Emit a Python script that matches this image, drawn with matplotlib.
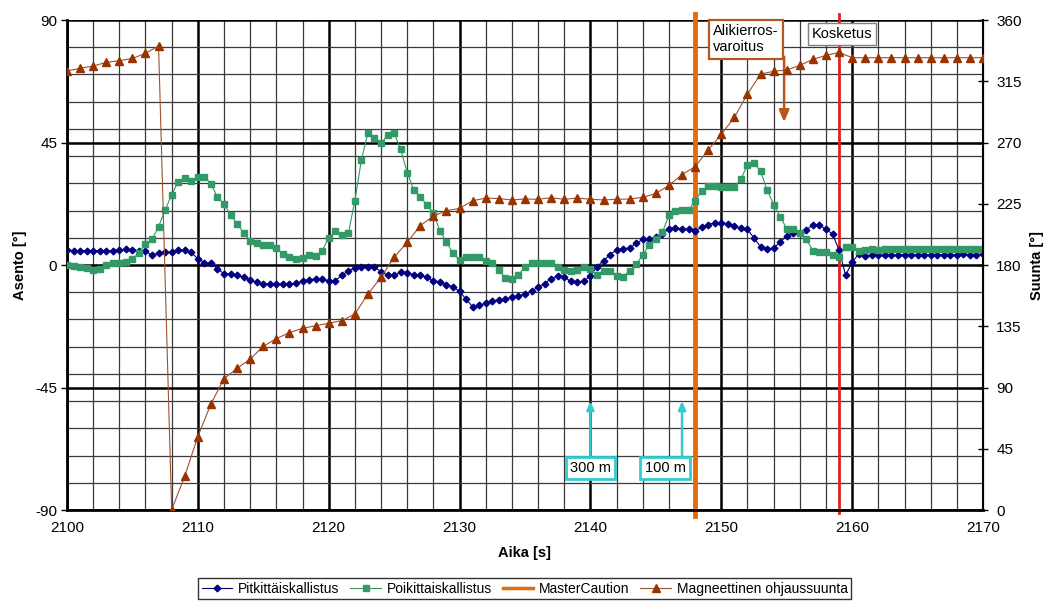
import numpy as np
import matplotlib
matplotlib.use("Agg")
import matplotlib.pyplot as plt
from matplotlib.ticker import MultipleLocator
from matplotlib.lines import Line2D

plt.rcParams["font.family"] = ["Liberation Sans", "DejaVu Sans"]
plt.rcParams["font.size"] = 10
plt.rcParams["axes.unicode_minus"] = False

# ── Data ──────────────────────────────────────────────
time_half = np.arange(2100, 2170.01, 0.5)   # 0.5 s sampling
time_full = np.arange(2100, 2171, 1)        # 1 s sampling

pitch = [  # Pitkittäiskallistus [°]
    5.5, 5.3, 5.3, 5.3, 5.3, 5.3, 5.1, 5.3, 5.5, 5.7, 5.5, 5.3, 5.0, 3.6, 4.5, 4.6, 4.8, 5.5, 5.5, 4.6,
    2.3, 0.9, 0.6, -1.3, -3.3, -3.3, -3.8, -4.5, -5.5, -6.4, -7.0, -7.0, -7.0, -7.0, -7.0, -6.7, -6.0, -5.5, -5.0, -5.3,
    -5.8, -5.8, -3.8, -2.1, -1.1, -0.6, -0.6, -0.9, -2.4, -3.8, -3.8, -2.6, -2.8, -3.6, -3.8, -4.5, -5.8, -6.2, -7.2, -8.0,
    -9.7, -12.6, -15.3, -14.8, -14.1, -13.1, -12.9, -12.4, -11.9, -11.4, -10.7, -9.7, -8.0, -6.8, -5.0, -4.0, -4.5, -6.0, -6.2, -6.0,
    -4.0, -0.6, 1.6, 3.8, 5.5, 6.0, 6.2, 8.0, 9.4, 9.4, 10.4, 11.4, 13.3, 13.6, 13.3, 13.1, 12.6, 13.8, 14.8, 15.6,
    15.6, 15.1, 14.3, 13.6, 13.1, 9.9, 6.7, 6.0, 6.2, 8.4, 10.7, 11.9, 11.6, 12.9, 14.8, 14.6, 13.1, 11.4, 5.5, -3.8,
    1.1, 4.0, 3.3, 3.6, 3.5, 3.6, 3.5, 3.6, 3.8, 3.6, 3.6, 3.8, 3.6, 3.8, 3.8, 3.6, 3.8, 4.0, 3.8, 3.6, 4.0,
]

roll = [  # Poikittaiskallistus [°]
    0.0, -0.2, -0.6, -1.2, -1.8, -1.6, 0.1, 0.6, 0.6, 1.1, 2.1, 4.5, 7.7, 9.4, 14.1, 20.2, 25.8, 30.6, 31.8, 30.9,
    32.2, 32.4, 29.8, 24.9, 22.4, 18.4, 15.1, 11.9, 8.7, 8.2, 7.3, 7.2, 6.1, 4.0, 2.8, 2.1, 2.7, 3.6, 3.3, 5.3,
    9.9, 12.4, 10.9, 11.6, 23.6, 38.6, 48.6, 46.8, 44.7, 47.6, 48.4, 42.5, 33.9, 27.6, 24.9, 22.2, 19.0, 12.6, 8.4, 4.3,
    1.8, 3.1, 3.1, 3.1, 1.6, 0.9, -1.8, -4.8, -5.0, -3.6, -0.6, 0.6, 0.6, 0.6, 0.6, -0.6, -1.8, -2.3, -1.8, -0.6,
    -1.6, -3.8, -2.1, -2.3, -4.0, -4.3, -2.1, 0.4, 3.6, 7.5, 9.7, 12.1, 18.2, 20.0, 20.2, 20.2, 23.6, 27.3, 29.0, 29.0,
    28.5, 28.8, 28.8, 31.5, 36.9, 37.6, 34.4, 27.6, 22.2, 17.8, 13.3, 13.3, 11.9, 9.4, 5.3, 4.8, 4.8, 3.6, 3.1, 6.7,
    6.5, 5.3, 5.5, 5.8, 5.5, 5.8, 6.0, 5.8, 5.8, 6.0, 5.8, 5.8, 6.0, 5.8, 5.8, 6.0, 5.8, 5.8, 6.0, 5.8, 5.8,
]

heading = [  # Magneettinen ohjaussuunta [°]
    322.5, 324.5, 326.2, 328.9, 330.1, 331.8, 335.5, 340.9,
    0.0, 25.0, 53.9, 77.9, 96.5, 104.1, 110.9, 120.2, 125.9, 130.3, 133.5, 135.4, 137.2, 139.1, 144.0,
    158.7, 171.0, 185.7, 196.7, 208.9, 216.0, 219.9, 221.6, 227.2, 229.2, 228.8, 227.8, 228.5, 228.3,
    229.4, 228.3, 229.2, 228.3, 227.8, 228.3, 228.5, 229.7, 232.6, 238.5, 246.4, 252.3,
    264.5, 276.0, 288.5, 305.6, 320.3, 322.3, 323.3, 326.7, 331.1, 334.0, 336.2, 332.3,
    332.3, 332.3, 332.3, 332.3, 332.3, 332.3, 332.3, 332.3, 332.3, 332.3,
]

master_caution_t = 2148.0
touchdown_t = 2159.0
alt_marks = {"300 m": 2140.0, "100 m": 2147.0}
warning_t = 2154.8

NAVY = "#000080"
GREEN = "#339966"
ORANGE = "#E36C09"
BROWN = "#993300"
RED = "#E02020"
CYAN = "#33CCCC"

# ── Figure ────────────────────────────────────────────
fig = plt.figure(figsize=(10.43, 6.01), dpi=100)
ax = fig.add_axes([0.0642, 0.1514, 0.8783, 0.8153])
ax2 = ax.twinx()

ax.set_xlim(2100, 2170)
ax.set_ylim(-90, 90)
ax2.set_ylim(0, 360)

ax.xaxis.set_major_locator(MultipleLocator(10))
ax.xaxis.set_minor_locator(MultipleLocator(2))
ax.yaxis.set_major_locator(MultipleLocator(45))
ax.yaxis.set_minor_locator(MultipleLocator(10))
ax2.yaxis.set_major_locator(MultipleLocator(45))

ax.grid(which="major", color="black", linewidth=1.8, zorder=0)
ax.grid(which="minor", color="#3a3a3a", linewidth=0.9, zorder=0)
ax.set_axisbelow(True)

ax.tick_params(axis="x", which="both", length=0, pad=8, labelsize=11)
ax.tick_params(axis="y", which="major", direction="out", length=4, width=1, pad=3, labelsize=11)
ax.tick_params(axis="y", which="minor", length=0)
ax2.tick_params(axis="y", direction="inout", length=7, width=1, pad=6, labelsize=11)

for side in ["left", "bottom"]:
    ax.spines[side].set_linewidth(2)
ax2.spines["right"].set_linewidth(1.5)
ax2.spines["left"].set_visible(False)
ax2.spines["bottom"].set_visible(False)
ax.spines["top"].set_visible(False)
ax2.spines["top"].set_visible(False)

# event lines
ax.axvline(master_caution_t, ymin=-0.012, ymax=1.012, color=ORANGE,
           linewidth=3.5, zorder=1, clip_on=False)
ax.axvline(touchdown_t, ymin=-0.006, ymax=1.012, color=RED,
           linewidth=2, zorder=1, clip_on=False)

# series
ax.plot(time_half, pitch, color=NAVY, linewidth=0.8, marker="D",
        markersize=3.4, zorder=3)
ax.plot(time_half, roll, color=GREEN, linewidth=0.8, marker="s",
        markersize=4.2, zorder=3)
ax2.plot(time_full, heading, color="#A0522D", linewidth=0.8, marker="^",
         markersize=5.2, markerfacecolor=BROWN, markeredgecolor=BROWN, zorder=3)

# annotations
ax.text(2151.9, 83.0, "Alikierros-\nvaroitus", ha="center", va="center",
        multialignment="left", fontsize=10.5, zorder=6,
        bbox=dict(boxstyle="square,pad=0.3", fc="white", ec="#B8561C", lw=1.6))
ax.annotate("", xy=(warning_t, 52.5), xytext=(warning_t, 76.5), zorder=6,
            arrowprops=dict(arrowstyle="-|>,head_length=0.7,head_width=0.3",
                            color="#B8561C", lw=1.8, shrinkA=0, shrinkB=0))
ax.text(2159.25, 84.9, "Kosketus", ha="center", va="center", fontsize=10.5, zorder=6,
        bbox=dict(boxstyle="square,pad=0.25", fc="white", ec="#808080", lw=1))

box_x = {"300 m": 2140.0, "100 m": 2145.7}
for label, t in alt_marks.items():
    ax.annotate("", xy=(t, -50), xytext=(t, -70.5), zorder=6,
                arrowprops=dict(arrowstyle="-|>,head_length=0.5,head_width=0.22",
                                color=CYAN, lw=1.8, shrinkA=0, shrinkB=0))
    ax.text(box_x[label], -74.6, label, ha="center", va="center", fontsize=10.5, zorder=6,
            bbox=dict(boxstyle="square,pad=0.3", fc="white", ec=CYAN, lw=2))

ax.set_xlabel("Aika [s]", fontweight="bold", fontsize=10.5, labelpad=8)
ax.set_ylabel("Asento [°]", fontweight="bold", fontsize=10.5, labelpad=6)
ax2.set_ylabel("Suunta [°]", fontweight="bold", fontsize=10.5, labelpad=6)

# legend
handles = [
    Line2D([], [], color=NAVY, linewidth=0.8, marker="D", markersize=3.4),
    Line2D([], [], color=GREEN, linewidth=0.8, marker="s", markersize=4.2),
    Line2D([], [], color=ORANGE, linewidth=2.5),
    Line2D([], [], color="#A0522D", linewidth=0.8, marker="^", markersize=5.2,
           markerfacecolor=BROWN, markeredgecolor=BROWN),
]
labels = ["Pitkittäiskallistus", "Poikittaiskallistus", "MasterCaution",
          "Magneettinen ohjaussuunta"]
leg = fig.legend(handles, labels, loc="upper center", bbox_to_anchor=(0.503, 0.038),
                 ncol=4, frameon=True, fancybox=False, fontsize=10,
                 handlelength=2.2, handletextpad=0.4, columnspacing=0.8,
                 borderpad=0.25, borderaxespad=0)
leg.get_frame().set_edgecolor("black")
leg.get_frame().set_linewidth(1)

fig.savefig("out.png", dpi=100)
